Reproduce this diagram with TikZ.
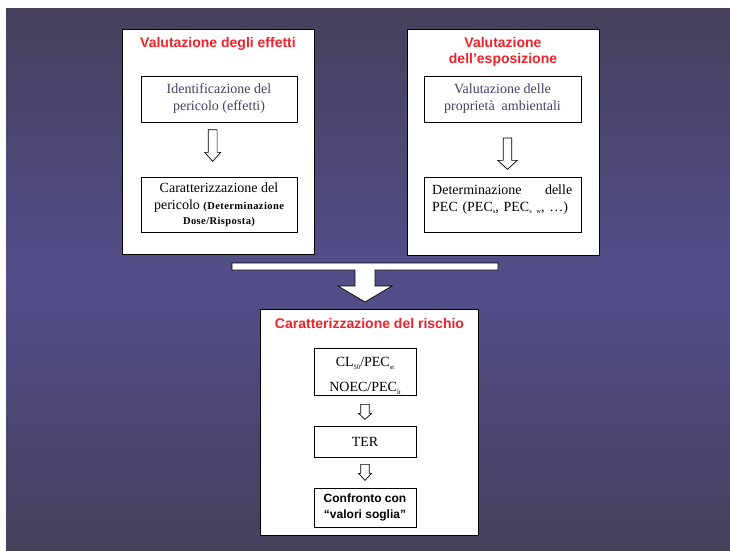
\documentclass[tikz,border=0pt]{standalone}
\usepackage{fontspec}
\setmainfont{Liberation Serif}
\newfontfamily\arialfont{Liberation Sans}
\newfontfamily\detfont[LetterSpace=4]{Liberation Serif}
\usetikzlibrary{calc}
\definecolor{titred}{RGB}{238,34,40}
\definecolor{slate}{RGB}{66,66,104}
\definecolor{bgdark}{RGB}{70,64,92}
\definecolor{bgmid}{RGB}{82,78,138}
\newcommand{\lowidx}[1]{\raisebox{-0.35ex}{\fontsize{6.5}{7}\selectfont #1}}
% #1 top centre, #2 half shaft, #3 half head, #4 shaft length, #5 head length
\newcommand{\hollowdown}[5]{\draw[hollow] #1 ++(-#2,0) -- ++(0,#4) -- ++({#2-#3},0) -- ++(#3,#5) -- ++(#3,-#5) -- ++({#2-#3},0) -- ++(0,-#4) -- cycle;}
\begin{document}
\begin{tikzpicture}[x=1pt,y=-1pt,line join=miter,
	bigbox/.style={draw=black,fill=white,line width=1pt,inner sep=0pt},
	smallbox/.style={draw=black,fill=white,line width=0.7pt,align=center,inner sep=0pt,font={\fontsize{14}{17}\selectfont}},
	title/.style={text=titred,align=center,font={\arialfont\bfseries\fontsize{14}{16}\selectfont}},
	hollow/.style={draw=black,fill=white,line width=0.7pt}]
	\useasboundingbox (0,0) rectangle (730,550);
	\fill[top color=bgdark,bottom color=bgdark,middle color=bgmid] (6,8) rectangle (730,550);
	
	\node[bigbox,minimum width=192,minimum height=225] (effetti) at (218,141.5) {};
	\node[bigbox,minimum width=192,minimum height=226] (esposizione) at (503,142) {};
	\node[bigbox,minimum width=218,minimum height=226] (rischio) at (369,422) {};
	
	\node[title,anchor=base] (teff) at (218,47.5) {Valutazione degli effetti};
	\node[title] (tesp) at (503,51.5) {Valutazione\\dell’esposizione};
	\node[title,anchor=base] (tris) at (369.5,328) {Caratterizzazione del rischio};
	
	\node[smallbox,minimum width=156,minimum height=46,text=slate] (ident) at (219,99) {Identificazione del\\pericolo (effetti)};
	\node[smallbox,minimum width=156,minimum height=55] (carpe) at (219,204.5)
	{Caratterizzazione del\\pericolo {\detfont\bfseries\fontsize{10.5}{14}\selectfont(Determinazione}\\[-2pt]{\detfont\bfseries\fontsize{10.5}{14}\selectfont Dose/Risposta)}};
	\node[smallbox,minimum width=157,minimum height=46,text=slate] (valamb) at (502.5,99) {Valutazione delle\\propriet\`a~ ambientali};
	\node[smallbox,minimum width=157,minimum height=55] (detpec) at (502.5,204.5) {};
	\node[inner sep=0pt,anchor=north west,text width=140,align=left,font={\fontsize{14}{17}\selectfont}] (detpectxt) at (432,184.5)
	{Determinazione\hfill delle\\PEC (PEC\lowidx{s}, PEC\lowidx{s w}, \ldots)};
	
	\node[smallbox,minimum width=102,minimum height=47] (cl) at (365,371.5) {};
	\node[inner sep=0pt,align=center,font={\fontsize{14}{17}\selectfont}] (cltxt) at (365,376) {CL\lowidx{50}/PEC\lowidx{st}\\[8pt]NOEC/PEC\lowidx{lt}};
	\node[smallbox,minimum width=102,minimum height=31] (ter) at (365,441.5) {TER};
	\node[smallbox,minimum width=102,minimum height=39,font={\arialfont\bfseries\fontsize{12}{16}\selectfont}] (confronto) at (365,507.5) {Confronto con\\“valori soglia”};
	
	\hollowdown{($(ident.south)+(-6.3,7.3)$)}{4.4}{8}{22.7}{9}
	\hollowdown{($(valamb.south)+(5,15.7)$)}{4.3}{9.7}{22.3}{9}
	\hollowdown{($(cl.south)+(0,9)$)}{4.2}{6.5}{9}{6}
	\hollowdown{($(ter.south)+(0,7)$)}{4.2}{6.5}{9}{7}
	
	\draw[hollow] (232,263) -- (498,263) -- (498,270) -- (375,270) -- (375,286) -- (392,286) -- (365,302)
	-- (338,286) -- (355,286) -- (355,270) -- (232,270) -- cycle;
\end{tikzpicture}
\end{document}
